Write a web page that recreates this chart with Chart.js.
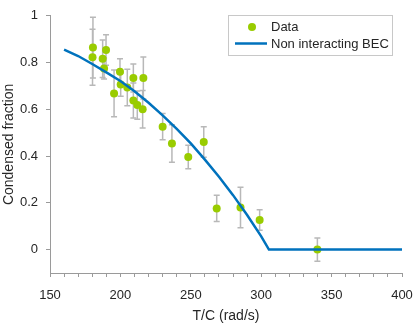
<!DOCTYPE html>
<html>
<head>
  <title>Condensed fraction</title>
  <style>
    body { margin: 0; background: #fff; }
    #wrap { width: 415px; height: 324px; }
  </style>
</head>
<body>
<div id="wrap">
  <canvas id="fracChart" width="415" height="324"></canvas>
</div>

<script src="https://cdn.jsdelivr.net/npm/chart.js"></script>
<script>
  // measured points (T/C in rad/s, condensed fraction, error)
  const dataT   = [180.5, 180.2, 189.8, 187.4, 188.4, 195.5, 199.7, 200.2, 204.9, 209.2, 209.2, 212.0, 215.8, 216.3,
                   230.0, 236.6, 248.2, 259.2, 268.4, 285.3, 298.9, 339.9];
  const dataF   = [0.864, 0.823, 0.854, 0.816, 0.775, 0.668, 0.761, 0.706, 0.693, 0.734, 0.638, 0.618, 0.600, 0.734,
                   0.526, 0.454, 0.396, 0.460, 0.176, 0.180, 0.127, 0.000];
  const dataErr = [0.130, 0.120, 0.065, 0.080, 0.045, 0.100, 0.055, 0.050, 0.078, 0.060, 0.075, 0.060, 0.080, 0.090,
                   0.056, 0.080, 0.050, 0.065, 0.056, 0.087, 0.044, 0.050];

  // non interacting BEC curve
  const becT = [160, 170, 180, 190, 200, 210, 220, 230, 240, 250, 260, 270, 280, 290, 300, 305.5, 400];
  const becF = [0.855, 0.828, 0.794, 0.758, 0.721, 0.677, 0.628, 0.574, 0.516, 0.454, 0.385, 0.312, 0.233, 0.148, 0.057, 0, 0];

  const xTicks = [];
  for (let v = 150; v <= 400; v += 10) xTicks.push(v);
  const yTicks = [0, 0.2, 0.4, 0.6, 0.8, 1];

  const greenDot = '#99cc00';
  const blueLine = '#0072bd';
  const axisGray = '#9a9a9a';
  const textGray = '#262626';

  // error bars under the markers
  const errorBars = {
    id: 'errorBars',
    beforeDatasetsDraw(chart) {
      const ctx = chart.ctx;
      const xs = chart.scales.x, ys = chart.scales.y;
      ctx.save();
      ctx.strokeStyle = '#b8b8b8';
      ctx.lineWidth = 1.5;
      dataT.forEach((t, i) => {
        const px = xs.getPixelForValue(t);
        const top = ys.getPixelForValue(dataF[i] + dataErr[i]);
        const bot = ys.getPixelForValue(dataF[i] - dataErr[i]);
        ctx.beginPath();
        ctx.moveTo(px, top); ctx.lineTo(px, bot);
        ctx.moveTo(px - 3, top); ctx.lineTo(px + 3, top);
        ctx.moveTo(px - 3, bot); ctx.lineTo(px + 3, bot);
        ctx.stroke();
      });
      ctx.restore();
    }
  };

  // legend box inside the axes, top right
  const boxLegend = {
    id: 'boxLegend',
    afterDraw(chart) {
      const ctx = chart.ctx;
      ctx.save();
      ctx.fillStyle = '#fff';
      ctx.fillRect(228.5, 15.5, 164, 40);
      ctx.strokeStyle = '#c8c8c8';
      ctx.lineWidth = 1;
      ctx.strokeRect(228.5, 15.5, 164, 40);

      ctx.fillStyle = greenDot;
      ctx.beginPath();
      ctx.arc(252, 27, 4, 0, Math.PI * 2);
      ctx.fill();

      ctx.strokeStyle = blueLine;
      ctx.lineWidth = 2.5;
      ctx.beginPath();
      ctx.moveTo(235, 43.5); ctx.lineTo(267, 43.5);
      ctx.stroke();

      ctx.fillStyle = textGray;
      ctx.font = '13px "Liberation Sans", Arial, sans-serif';
      ctx.textBaseline = 'middle';
      ctx.fillText(chart.data.datasets[0].label, 271, 27);
      ctx.fillText(chart.data.datasets[1].label, 271, 44);
      ctx.restore();
    }
  };

  const fontFamily = '"Liberation Sans", Arial, sans-serif';

  new Chart(document.getElementById('fracChart'), {
    type: 'scatter',
    data: {
      datasets: [
        {
          label: 'Data',
          data: dataT.map((t, i) => ({ x: t, y: dataF[i] })),
          backgroundColor: greenDot,
          borderColor: greenDot,
          pointRadius: 4,
          pointBorderWidth: 0,
          order: 1
        },
        {
          label: 'Non interacting BEC',
          type: 'line',
          data: becT.map((t, i) => ({ x: t, y: becF[i] })),
          borderColor: blueLine,
          backgroundColor: blueLine,
          borderWidth: 2.5,
          pointRadius: 0,
          tension: 0,
          order: 0
        }
      ]
    },
    options: {
      responsive: false,
      animation: false,
      layout: { padding: { top: 5, right: 0, left: 0, bottom: 0 } },
      plugins: {
        legend: { display: false },
        tooltip: { enabled: false }
      },
      scales: {
        x: {
          type: 'linear',
          min: 150,
          max: 400,
          afterBuildTicks: axis => { axis.ticks = xTicks.map(v => ({ value: v })); },
          afterFit: axis => { axis.height = 51; axis.paddingRight = 13; axis.paddingLeft = 0; },
          grid: { display: true, drawOnChartArea: false, drawTicks: true, tickLength: 4, tickColor: axisGray },
          border: { display: true, color: axisGray, width: 1 },
          ticks: {
            autoSkip: false,
            maxRotation: 0,
            padding: 11,
            color: textGray,
            font: { family: fontFamily, size: 13 },
            callback: v => (v % 50 === 0 ? String(v) : '')
          },
          title: {
            display: true,
            text: 'T/C (rad/s)',
            color: textGray,
            font: { family: fontFamily, size: 14, lineHeight: 1 },
            padding: { top: 0, bottom: 1 }
          }
        },
        y: {
          type: 'linear',
          min: -0.1,
          max: 1,
          afterBuildTicks: axis => { axis.ticks = yTicks.map(v => ({ value: v })); },
          afterFit: axis => { axis.width = 50; },
          grid: { display: true, drawOnChartArea: false, drawTicks: true, tickLength: 4, tickColor: axisGray },
          border: { display: true, color: axisGray, width: 1 },
          ticks: {
            padding: 8,
            color: textGray,
            font: { family: fontFamily, size: 13 },
            callback: v => String(Math.round(v * 10) / 10)
          },
          title: {
            display: true,
            text: 'Condensed fraction',
            color: textGray,
            font: { family: fontFamily, size: 14 },
            padding: { top: 1, bottom: 0 }
          }
        }
      }
    },
    plugins: [errorBars, boxLegend]
  });
</script>
</body>
</html>
